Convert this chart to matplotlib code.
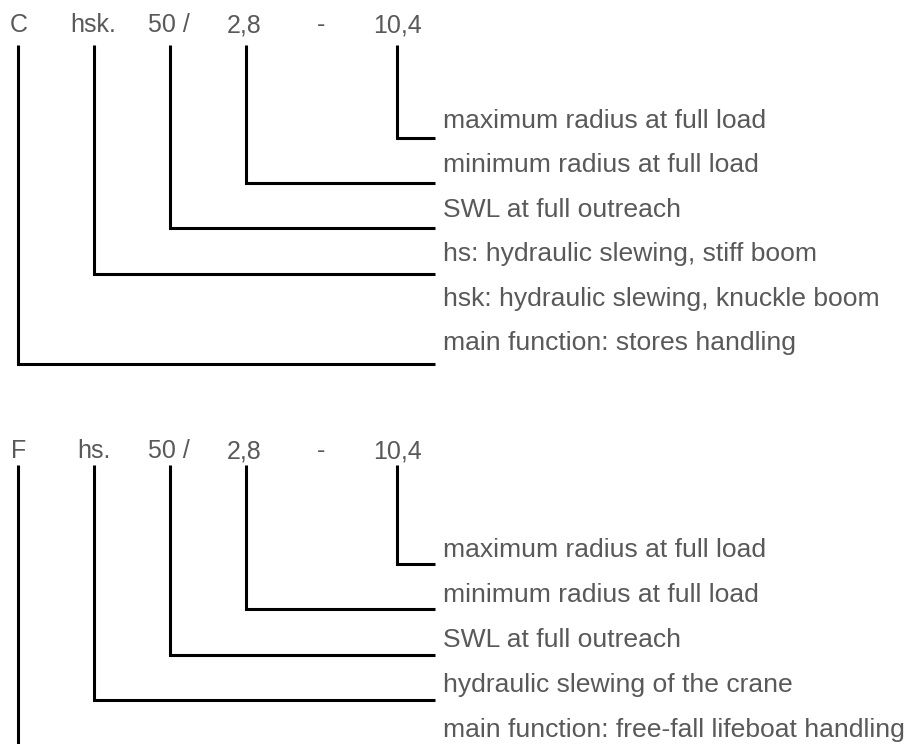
import matplotlib.pyplot as plt

# type code tokens and the explanation labels of each example
top_tokens = ["C", "hsk.", "50 /", "2,8", "-", "10,4"]
top_labels = ["maximum radius at full load",
              "minimum radius at full load",
              "SWL at full outreach",
              "hs: hydraulic slewing, stiff boom",
              "hsk: hydraulic slewing, knuckle boom",
              "main function: stores handling"]
# which token (index) is connected to which label row
top_links = [(5, 0), (3, 1), (2, 2), (1, 3), (0, 5)]

bot_tokens = ["F", "hs.", "50 /", "2,8", "-", "10,4"]
bot_labels = ["maximum radius at full load",
              "minimum radius at full load",
              "SWL at full outreach",
              "hydraulic slewing of the crane",
              "main function: free-fall lifeboat handling"]
bot_links = [(5, 0), (3, 1), (2, 2), (1, 3)]

TXT = "#595959"
FONT = "Liberation Sans"

fig = plt.figure(figsize=(9.06, 7.44), dpi=100)
ax = fig.add_axes([0, 0, 1, 1])
ax.set_xlim(0, 906)
ax.set_ylim(744, 0)
ax.axis("off")

tok_x = [10, 70, 148, 227, 317, 373]
tick_x = [18, 94, 170, 246, None, 397]
line_end = 435
label_x = 443

# fit label font size so the longest top label ends where the original does
probe = ax.text(label_x, 300, top_labels[4], fontsize=17, family=FONT)
fig.canvas.draw()
w = probe.get_window_extent().width
probe.remove()
lab_fs = 17 * (880 - label_x) / w


def block(tokens, labels, links, head_y, tick_y, lab_y0, lab_step, line_y0, line_step,
          tok_x_adj=None, open_first=False):
    xs = tok_x_adj or tok_x
    for t, x in zip(tokens, xs):
        ax.text(x, head_y, t, fontsize=18, color=TXT, family=FONT, va="baseline", ha="left")
    for i, lab in enumerate(labels):
        ax.text(label_x, lab_y0 + lab_step * i, lab, fontsize=lab_fs, color=TXT,
                family=FONT, va="baseline", ha="left")
    for ti, row in links:
        y = line_y0 + line_step * row
        ax.plot([tick_x[ti], tick_x[ti], line_end], [tick_y, y, y],
                color="black", lw=2.2, solid_joinstyle="miter", solid_capstyle="butt")
    if open_first:
        ax.plot([tick_x[0], tick_x[0]], [tick_y, 744], color="black", lw=2.2,
                solid_capstyle="butt")


block(top_tokens, top_labels, top_links, head_y=32.5, tick_y=45,
      lab_y0=128, lab_step=44.4, line_y0=138, line_step=45.2)
block(bot_tokens, bot_labels, bot_links, head_y=458, tick_y=465,
      lab_y0=557, lab_step=45, line_y0=564, line_step=45.3,
      tok_x_adj=[11, 77, 148, 227, 317, 373], open_first=True)

fig.savefig("out.png", dpi=100)
